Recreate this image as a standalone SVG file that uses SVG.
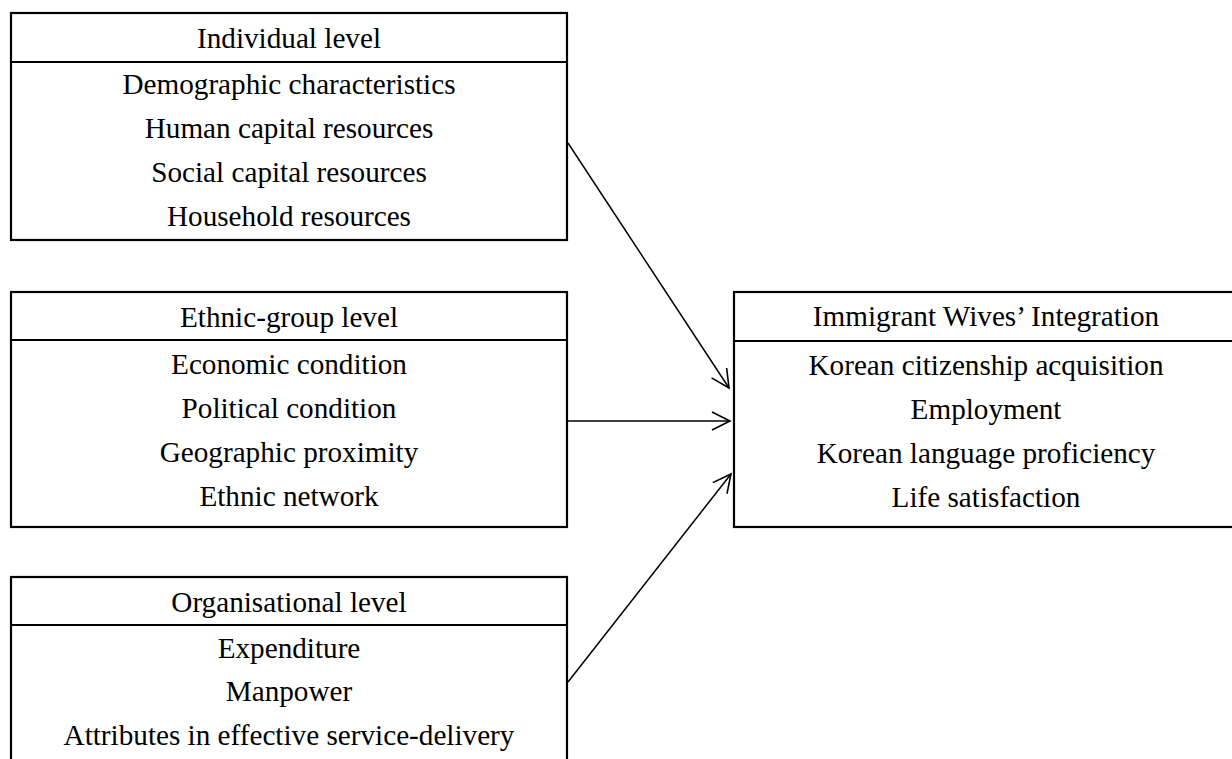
<svg xmlns="http://www.w3.org/2000/svg" width="1232" height="759" viewBox="0 0 1232 759">
<defs>
<style>
.box{fill:#fff;stroke:#000;stroke-width:2.2}
.div{stroke:#000;stroke-width:2.2}
text{font-family:"Liberation Serif","Times New Roman",serif;font-size:29.2px;fill:#000;text-anchor:middle}
.conn{stroke:#000;stroke-width:1.5;fill:none}
</style>
<marker id="arr" markerUnits="userSpaceOnUse" markerWidth="40" markerHeight="40" viewBox="-20 -20 40 40" refX="0" refY="0" orient="auto">
<path d="M-18,-9 L0,0 L-18,9" fill="none" stroke="#000" stroke-width="1.6"/>
</marker>
</defs>
<rect width="1232" height="759" fill="#fff"/>
<g id="individual">
<rect class="box" x="11" y="13" width="556" height="227"/>
<line class="div" x1="11" y1="62" x2="567" y2="62"/>
<text x="289" y="48">Individual level</text>
<text x="289" y="94">Demographic characteristics</text>
<text x="289" y="138">Human capital resources</text>
<text x="289" y="182">Social capital resources</text>
<text x="289" y="226">Household resources</text>
</g>
<g id="ethnic">
<rect class="box" x="11" y="292" width="556" height="235"/>
<line class="div" x1="11" y1="340" x2="567" y2="340"/>
<text x="289" y="327">Ethnic-group level</text>
<text x="289" y="374">Economic condition</text>
<text x="289" y="418">Political condition</text>
<text x="289" y="462">Geographic proximity</text>
<text x="289" y="506">Ethnic network</text>
</g>
<g id="organisational">
<rect class="box" x="11" y="577" width="556" height="200"/>
<line class="div" x1="11" y1="625" x2="567" y2="625"/>
<text x="289" y="612">Organisational level</text>
<text x="289" y="658">Expenditure</text>
<text x="289" y="701">Manpower</text>
<text x="289" y="745">Attributes in effective service-delivery</text>
</g>
<g id="integration">
<rect class="box" x="734" y="292" width="504" height="235"/>
<line class="div" x1="734" y1="341" x2="1238" y2="341"/>
<text x="986" y="326">Immigrant Wives’ Integration</text>
<text x="986" y="375">Korean citizenship acquisition</text>
<text x="986" y="419">Employment</text>
<text x="986" y="463">Korean language proficiency</text>
<text x="986" y="507">Life satisfaction</text>
</g>
<g id="connectors">
<line class="conn" x1="568" y1="143" x2="729" y2="388" marker-end="url(#arr)"/>
<line class="conn" x1="568" y1="421" x2="730" y2="421" marker-end="url(#arr)"/>
<line class="conn" x1="568" y1="682" x2="731" y2="474" marker-end="url(#arr)"/>
</g>
</svg>
